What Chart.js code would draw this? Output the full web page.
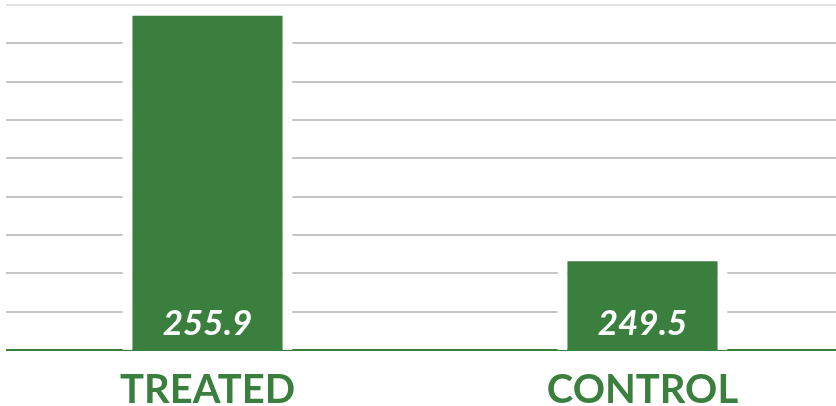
<!DOCTYPE html>
<html>
<head>
<meta charset="utf-8">
<script src="https://cdn.jsdelivr.net/npm/chart.js@4.4.1/dist/chart.umd.min.js"></script>
<style>
    html, body { margin: 0; padding: 0; background: #ffffff; }
    #wrap {
        position: absolute;
        left: 6px;
        top: 0;
        width: 830px;
        height: 406px;
        overflow: hidden;
    }
    #chart {
        position: absolute;
        left: -16px;
        top: 0;
    }
</style>
</head>
<body>
<div id="wrap">
    <canvas id="chart" width="870" height="406"></canvas>
</div>
<script>
const categories = ["TREATED", "CONTROL"];
const values = [255.9, 249.5];
const valueLabels = ["255.9", "249.5"];
const yMin = 247;
const yMax = 256;

const green = "#3a7f3d";

// white value text near the foot of each bar
const barValues = {
    id: "barValues",
    afterDatasetsDraw(chart) {
        const ctx = chart.ctx;
        const meta = chart.getDatasetMeta(0);
        const bottom = chart.chartArea.bottom;
        ctx.save();
        ctx.fillStyle = "#ffffff";
        ctx.font = "italic bold 35px Lato, sans-serif";
        ctx.textAlign = "center";
        ctx.textBaseline = "alphabetic";
        meta.data.forEach((bar, i) => {
            ctx.fillText(valueLabels[i], bar.x, bottom - 15);
        });
        ctx.restore();
    },
};

const ctx = document.getElementById("chart").getContext("2d");

new Chart(ctx, {
    type: "bar",
    data: {
        labels: categories,
        datasets: [
            {
                data: values,
                backgroundColor: green,
                borderColor: "#ffffff",
                borderWidth: { top: 7, left: 10, right: 10, bottom: 0 },
                borderSkipped: false,
                categoryPercentage: 1,
                barPercentage: 0.391,
            },
        ],
    },
    options: {
        responsive: false,
        animation: false,
        layout: { padding: { top: 5, left: 0, right: 0, bottom: 0 } },
        plugins: {
            legend: { display: false },
            tooltip: { enabled: false },
        },
        scales: {
            x: {
                grid: { display: false, drawTicks: false },
                border: { display: true, color: green, width: 2 },
                ticks: {
                    color: green,
                    font: { family: "Lato", size: 40, weight: "bold" },
                    padding: 16,
                    maxRotation: 0,
                },
                afterFit: (scale) => {
                    scale.height = 56;
                },
            },
            y: {
                min: yMin,
                max: yMax,
                ticks: { display: false, stepSize: 1 },
                border: { display: false },
                grid: {
                    drawTicks: false,
                    lineWidth: 2,
                    color: (c) => (c.tick && c.tick.value === yMax ? "#e2e2e2" : "#c6c6c6"),
                },
            },
        },
    },
    plugins: [barValues],
});
</script>
</body>
</html>
